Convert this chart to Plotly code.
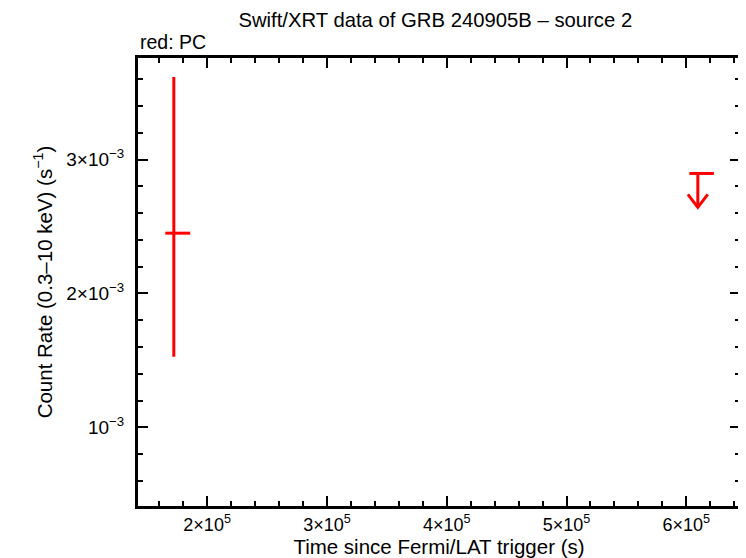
import plotly.graph_objects as go

# ---- data ----
pc_t = [1.722e5]
pc_t_lo = [1.651e5]
pc_t_hi = [1.859e5]
pc_rate = [2.450e-3]
pc_rate_lo = [1.528e-3]
pc_rate_hi = [3.617e-3]

ul_t = [6.096e5]
ul_t_lo = [6.025e5]
ul_t_hi = [6.230e5]
ul_rate = [2.896e-3]

x_tickvals = [2e5, 3e5, 4e5, 5e5, 6e5]
x_ticktext = ["2×10<sup>5</sup>", "3×10<sup>5</sup>", "4×10<sup>5</sup>", "5×10<sup>5</sup>", "6×10<sup>5</sup>"]
y_tickvals = [1e-3, 2e-3, 3e-3]
y_ticktext = ["10<sup>−3</sup>", "2×10<sup>−3</sup>", "3×10<sup>−3</sup>"]

RED = "#ff0000"
FONT = "Liberation Sans, Arial, sans-serif"

fig = go.Figure()

fig.add_trace(go.Scatter(
    x=pc_t, y=pc_rate, mode="markers",
    marker=dict(size=1, color=RED, opacity=0),
    error_x=dict(type="data", symmetric=False,
                 array=[h - v for h, v in zip(pc_t_hi, pc_t)],
                 arrayminus=[v - l for l, v in zip(pc_t_lo, pc_t)],
                 color=RED, thickness=3, width=0),
    error_y=dict(type="data", symmetric=False,
                 array=[h - v for h, v in zip(pc_rate_hi, pc_rate)],
                 arrayminus=[v - l for l, v in zip(pc_rate_lo, pc_rate)],
                 color=RED, thickness=3, width=0),
    showlegend=False, hoverinfo="skip"))

# upper limit: horizontal bar
fig.add_trace(go.Scatter(
    x=ul_t, y=ul_rate, mode="markers",
    marker=dict(size=1, color=RED, opacity=0),
    error_x=dict(type="data", symmetric=False,
                 array=[h - v for h, v in zip(ul_t_hi, ul_t)],
                 arrayminus=[v - l for l, v in zip(ul_t_lo, ul_t)],
                 color=RED, thickness=3, width=0),
    showlegend=False, hoverinfo="skip"))

# upper limit arrow (style sizes in data units)
ARROW_LEN = 0.253e-3
HEAD_DX = 8.3e3
HEAD_DY = 0.097e-3
ax, ay = [], []
for t, r in zip(ul_t, ul_rate):
    tip = r - ARROW_LEN
    ax += [t, t, None, t - HEAD_DX, t, t + HEAD_DX, None]
    ay += [r, tip, None, tip + HEAD_DY, tip, tip + HEAD_DY, None]
fig.add_trace(go.Scatter(x=ax, y=ay, mode="lines",
                         line=dict(color=RED, width=3),
                         showlegend=False, hoverinfo="skip"))

axis_common = dict(
    showline=True, linecolor="black", linewidth=3, mirror="ticks",
    ticks="inside", ticklen=10, tickwidth=2, tickcolor="black",
    showgrid=False, zeroline=False,
)

fig.update_xaxes(
    **axis_common,
    tickfont=dict(family=FONT, size=18, color="black"),
    range=[1.423e5, 6.448e5],
    tickmode="array", tickvals=x_tickvals, ticktext=x_ticktext,
    minor=dict(ticks="inside", ticklen=5, tickwidth=2, tickcolor="black",
               tick0=0, dtick=2e4, showgrid=False),
    title=dict(text="Time since Fermi/LAT trigger (s)",
               font=dict(family=FONT, size=20.5, color="black"), standoff=6),
)
fig.update_yaxes(
    **axis_common,
    tickfont=dict(family=FONT, size=19, color="black"),
    range=[0.413e-3, 3.758e-3],
    tickmode="array", tickvals=y_tickvals, ticktext=y_ticktext,
    ticklabelstandoff=7,
    minor=dict(ticks="inside", ticklen=5, tickwidth=2, tickcolor="black",
               tick0=0, dtick=2e-4, showgrid=False),
    title=dict(text="Count Rate (0.3–10 keV) (s<sup>−1</sup>)",
               font=dict(family=FONT, size=20.5, color="black"), standoff=9),
)

fig.update_layout(
    width=738, height=550,
    margin=dict(l=130, r=3, t=50, b=50),
    paper_bgcolor="white", plot_bgcolor="white",
    title=dict(text="Swift/XRT data of GRB 240905B – source 2",
               x=0.579, xanchor="center", y=0.978, yanchor="middle",
               font=dict(family=FONT, size=20.3, color="black")),
    annotations=[dict(text="red: PC", xref="paper", yref="paper",
                      x=0, y=1, xanchor="left", yanchor="bottom", yshift=3,
                      showarrow=False,
                      font=dict(family=FONT, size=19.5, color="black"))],
)

fig.write_html("out.html")
